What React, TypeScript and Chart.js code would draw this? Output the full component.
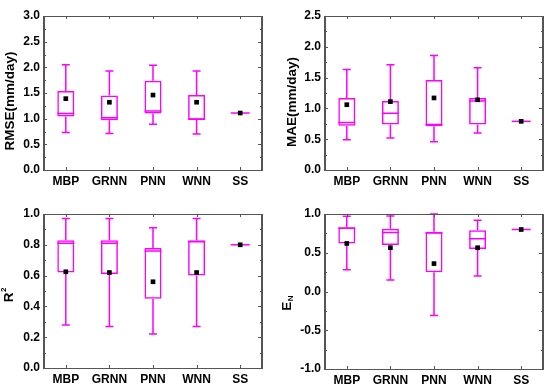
import React, { useEffect, useRef } from "react";
import { Chart, registerables } from "chart.js";

Chart.register(...registerables);

const CATEGORIES = ["MBP", "GRNN", "PNN", "WNN", "SS"];

// RMSE (mm/day)
const RMSE_MIN = [0.73, 0.71, 0.89, 0.70, 1.11];
const RMSE_Q1 = [1.04, 0.97, 1.10, 0.98, 1.11];
const RMSE_MED = [1.10, 1.02, 1.15, 0.99, 1.11];
const RMSE_Q3 = [1.54, 1.45, 1.74, 1.46, 1.11];
const RMSE_MAX = [2.05, 1.93, 2.04, 1.93, 1.11];
const RMSE_MEAN = [1.39, 1.32, 1.46, 1.32, 1.11];

// MAE (mm/day)
const MAE_MIN = [0.49, 0.52, 0.46, 0.60, 0.79];
const MAE_Q1 = [0.72, 0.74, 0.71, 0.74, 0.79];
const MAE_MED = [0.77, 0.92, 0.74, 1.12, 0.79];
const MAE_Q3 = [1.17, 1.12, 1.46, 1.17, 0.79];
const MAE_MAX = [1.63, 1.71, 1.86, 1.66, 0.79];
const MAE_MEAN = [1.06, 1.11, 1.17, 1.14, 0.79];

// R^2
const R2_MIN = [0.28, 0.27, 0.22, 0.27, 0.80];
const R2_Q1 = [0.62, 0.61, 0.45, 0.60, 0.80];
const R2_MED = [0.81, 0.81, 0.76, 0.82, 0.80];
const R2_Q3 = [0.83, 0.83, 0.78, 0.83, 0.80];
const R2_MAX = [0.97, 0.97, 0.91, 0.97, 0.80];
const R2_MEAN = [0.625, 0.62, 0.56, 0.62, 0.80];

// E_N
const EN_MIN = [0.28, 0.15, -0.31, 0.20, 0.80];
const EN_Q1 = [0.62, 0.60, 0.25, 0.55, 0.80];
const EN_MED = [0.815, 0.76, 0.755, 0.68, 0.80];
const EN_Q3 = [0.83, 0.81, 0.77, 0.79, 0.80];
const EN_MAX = [0.97, 0.975, 1.0, 0.92, 0.80];
const EN_MEAN = [0.62, 0.565, 0.36, 0.565, 0.80];

const MAGENTA = "#ff00ff";
const FRAME = "#555555";
const FONT = "'Liberation Sans', Arial, sans-serif";

type Panel = {
  title: string;
  mark?: string;
  markType?: "sup" | "sub";
  min: number[];
  q1: number[];
  med: number[];
  q3: number[];
  max: number[];
  mean: number[];
  yMin: number;
  yMax: number;
  step: number;
  pad: { left: number; right: number; top: number };
  yWidth: number;
  xHeight: number;
  titleX: number;
  titleY: number;
  pos: { left: number; top: number };
};

const PANELS: Panel[] = [
  {
    title: "RMSE(mm/day)",
    min: RMSE_MIN, q1: RMSE_Q1, med: RMSE_MED, q3: RMSE_Q3, max: RMSE_MAX, mean: RMSE_MEAN,
    yMin: 0, yMax: 3, step: 0.5,
    pad: { left: 0, right: 13, top: 16 }, yWidth: 44, xHeight: 23,
    titleX: 10, titleY: 101, pos: { left: 0, top: 0 },
  },
  {
    title: "MAE(mm/day)",
    min: MAE_MIN, q1: MAE_Q1, med: MAE_MED, q3: MAE_Q3, max: MAE_MAX, mean: MAE_MEAN,
    yMin: 0, yMax: 2.5, step: 0.5,
    pad: { left: 0, right: 7, top: 16 }, yWidth: 50, xHeight: 23,
    titleX: 17, titleY: 102, pos: { left: 275, top: 0 },
  },
  {
    title: "R", mark: "2", markType: "sup",
    min: R2_MIN, q1: R2_Q1, med: R2_MED, q3: R2_Q3, max: R2_MAX, mean: R2_MEAN,
    yMin: 0, yMax: 1, step: 0.2,
    pad: { left: 0, right: 13, top: 21 }, yWidth: 44, xHeight: 18,
    titleX: 9, titleY: 102, pos: { left: 0, top: 193 },
  },
  {
    title: "E", mark: "N", markType: "sub",
    min: EN_MIN, q1: EN_Q1, med: EN_MED, q3: EN_Q3, max: EN_MAX, mean: EN_MEAN,
    yMin: -1, yMax: 1, step: 0.5,
    pad: { left: 0, right: 7, top: 21 }, yWidth: 50, xHeight: 17,
    titleX: 12, titleY: 110, pos: { left: 275, top: 193 },
  },
];

function makePlugin(p: Panel) {
  return {
    id: "boxExtras",
    beforeDatasetsDraw(chart: any) {
      const ctx = chart.ctx;
      const xs = chart.scales.x;
      const ys = chart.scales.y;
      const boxMeta = chart.getDatasetMeta(1);
      ctx.save();
      ctx.strokeStyle = MAGENTA;
      ctx.lineWidth = 1.5;
      for (let i = 0; i < CATEGORIES.length; i++) {
        const x = xs.getPixelForValue(i);
        const half = (boxMeta.data[i]?.width ?? 17) / 2;
        const yMinP = ys.getPixelForValue(p.min[i]);
        const yQ1 = ys.getPixelForValue(p.q1[i]);
        const yQ3 = ys.getPixelForValue(p.q3[i]);
        const yMaxP = ys.getPixelForValue(p.max[i]);
        const yMed = ys.getPixelForValue(p.med[i]);
        ctx.beginPath();
        if (p.max[i] !== p.min[i]) {
          ctx.moveTo(x, yMinP); ctx.lineTo(x, yQ1);
          ctx.moveTo(x, yQ3); ctx.lineTo(x, yMaxP);
          ctx.moveTo(x - 4, yMinP); ctx.lineTo(x + 4, yMinP);
          ctx.moveTo(x - 4, yMaxP); ctx.lineTo(x + 4, yMaxP);
          ctx.moveTo(x - half, yMed); ctx.lineTo(x + half, yMed);
        } else {
          ctx.moveTo(x - half - 1, yMed); ctx.lineTo(x + half + 1, yMed);
        }
        ctx.stroke();
      }
      ctx.restore();
    },
    afterDraw(chart: any) {
      const ctx = chart.ctx;
      const a = chart.chartArea;
      const xs = chart.scales.x;
      const ys = chart.scales.y;
      ctx.save();
      ctx.strokeStyle = FRAME;
      // ticks
      ctx.lineWidth = 1;
      ctx.beginPath();
      const minorStep = p.step / 2;
      const n = Math.round((p.yMax - p.yMin) / minorStep);
      for (let k = 0; k <= n; k++) {
        const v = p.yMin + k * minorStep;
        const y = Math.round(ys.getPixelForValue(v)) + 0.5;
        const major = k % 2 === 0;
        const lenL = major ? 3 : 2;
        const lenR = major ? 4 : 2;
        ctx.moveTo(a.left, y); ctx.lineTo(a.left + lenL, y);
        ctx.moveTo(a.right, y); ctx.lineTo(a.right - lenR, y);
      }
      for (let i = 0; i < CATEGORIES.length; i++) {
        const x = Math.round(xs.getPixelForValue(i)) + 0.5;
        ctx.moveTo(x, a.bottom); ctx.lineTo(x, a.bottom - 3);
        ctx.moveTo(x, a.top); ctx.lineTo(x, a.top + 3);
      }
      ctx.stroke();
      // frame
      ctx.lineWidth = 1;
      ctx.beginPath();
      ctx.moveTo(a.left, a.top + 0.5); ctx.lineTo(a.right, a.top + 0.5);
      ctx.moveTo(a.left, a.bottom + 0.5); ctx.lineTo(a.right, a.bottom + 0.5);
      ctx.stroke();
      ctx.lineWidth = 2;
      ctx.beginPath();
      ctx.moveTo(a.left, a.top); ctx.lineTo(a.left, a.bottom + 1);
      ctx.moveTo(a.right, a.top); ctx.lineTo(a.right, a.bottom + 1);
      ctx.stroke();
      // y title
      ctx.translate(p.titleX, p.titleY);
      ctx.rotate(-Math.PI / 2);
      ctx.fillStyle = "#000";
      ctx.textBaseline = "middle";
      ctx.textAlign = "left";
      const mainFont = `bold 13.5px ${FONT}`;
      const markFont = `bold 8px ${FONT}`;
      ctx.font = mainFont;
      const w1 = ctx.measureText(p.title).width;
      let w2 = 0;
      if (p.mark) {
        ctx.font = markFont;
        w2 = ctx.measureText(p.mark).width + 0.5;
      }
      const start = -(w1 + w2) / 2;
      ctx.font = mainFont;
      ctx.fillText(p.title, start, 0);
      if (p.mark) {
        ctx.font = markFont;
        const dy = p.markType === "sup" ? -5 : 4;
        ctx.fillText(p.mark, start + w1 + 0.5, dy);
      }
      ctx.restore();
    },
  };
}

function BoxPanel({ p }: { p: Panel }) {
  const ref = useRef<HTMLCanvasElement | null>(null);
  useEffect(() => {
    if (!ref.current) return;
    const boxData = CATEGORIES.map((_, i) => [p.q1[i], p.q3[i]]);
    const chart = new Chart(ref.current, {
      type: "bar",
      data: {
        labels: CATEGORIES,
        datasets: [
          {
            type: "line",
            label: "Mean",
            data: p.mean,
            showLine: false,
            pointStyle: "rect",
            pointRadius: 3.3,
            pointBackgroundColor: "#000",
            pointBorderColor: "#000",
            pointBorderWidth: 0,
            order: 0,
          } as any,
          {
            type: "bar",
            label: "Box",
            data: boxData as any,
            backgroundColor: "rgba(0,0,0,0)",
            borderColor: MAGENTA,
            borderWidth: 1.5,
            borderSkipped: false,
            grouped: false,
            barPercentage: 0.39,
            categoryPercentage: 1,
            order: 1,
          } as any,
        ],
      },
      options: {
        responsive: false,
        animation: false,
        devicePixelRatio: 1,
        layout: { padding: { left: p.pad.left, right: p.pad.right, top: p.pad.top, bottom: 0 } },
        plugins: { legend: { display: false }, tooltip: { enabled: false } },
        scales: {
          x: {
            type: "category",
            offset: true,
            grid: { display: false, drawTicks: false },
            border: { display: false },
            ticks: {
              color: "#000",
              font: { family: FONT, size: 12, weight: "bold" },
              padding: 4,
              maxRotation: 0,
            },
            afterFit: (s: any) => { s.height = p.xHeight; },
          },
          y: {
            min: p.yMin,
            max: p.yMax,
            grid: { display: false, drawTicks: false },
            border: { display: false },
            ticks: {
              stepSize: p.step,
              color: "#000",
              font: { family: FONT, size: 12, weight: "bold" },
              padding: 4,
              callback: (v: any) => Number(v).toFixed(1),
            },
            afterFit: (s: any) => { s.width = p.yWidth; },
          },
        },
      } as any,
      plugins: [makePlugin(p)],
    });
    return () => chart.destroy();
  }, [p]);
  return (
    <canvas
      ref={ref}
      width={275}
      height={193}
      style={{ position: "absolute", left: p.pos.left, top: p.pos.top, width: 275, height: 193 }}
    />
  );
}

export default function App() {
  return (
    <div style={{ position: "absolute", left: 0, top: 0, width: 550, height: 386, background: "#fff" }}>
      {PANELS.map((p, i) => (
        <BoxPanel key={i} p={p} />
      ))}
    </div>
  );
}
